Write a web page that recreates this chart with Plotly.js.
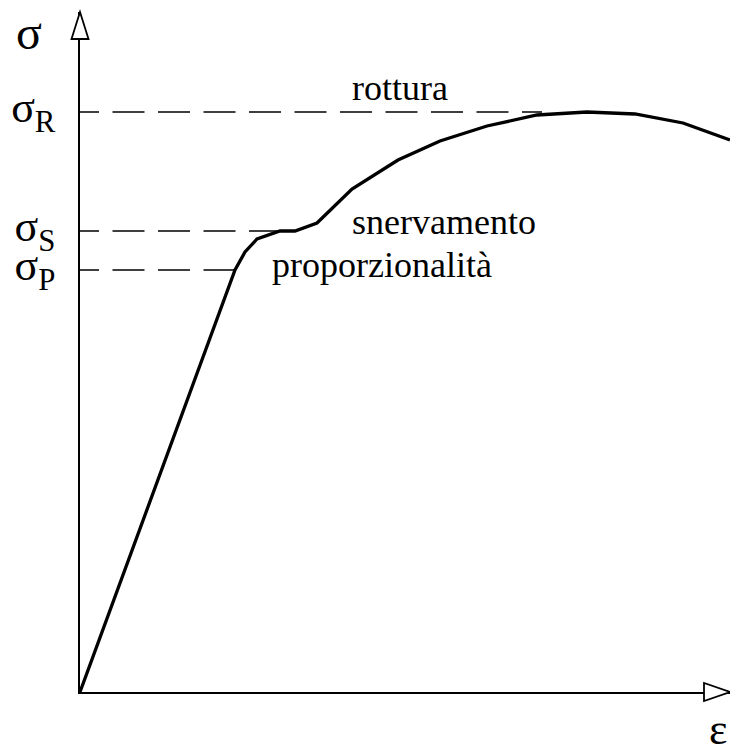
<!DOCTYPE html>
<html>
<head>
<meta charset="utf-8">
<script src="https://cdn.plot.ly/plotly-3.0.1.min.js"></script>
<style>
  html, body { margin: 0; padding: 0; background: #fff; }
  #chart { width: 730px; height: 744px; }
</style>
</head>
<body>
<div id="chart"></div>
<script>
// Stress–strain curve (arbitrary units): strain ε on x, stress σ on y
const strain = [0, 155, 165, 177, 200, 215, 237, 272, 318, 360, 407, 457, 507, 555, 603, 650];
const stress = [0, 422, 440, 453, 461, 461, 469, 503, 532, 551, 566, 577, 580, 578, 569, 552];

// Characteristic stress levels and where their reference lines meet the curve
const levelNames  = ['proporzionalità', 'snervamento', 'rottura'];
const levelStress = [422, 461, 580];
const levelStrain = [155, 200, 462];
const levelTicks  = ['σ<sub>P</sub>', 'σ<sub>S</sub>', 'σ<sub>R</sub>'];

const X_MAX = 650, Y_MAX = 680;
const serif = 'Liberation Serif';

const traces = [];
// dashed reference lines from the σ axis to the curve
levelStress.forEach((s, i) => {
  traces.push({
    x: [-13, levelStrain[i]], y: [s, s],
    mode: 'lines', hoverinfo: 'skip',
    line: { color: '#000', width: 1.5, dash: '32px,13.5px' }
  });
});
// the curve itself
traces.push({
  x: strain, y: stress, mode: 'lines', hoverinfo: 'skip',
  line: { color: '#000', width: 3.3 }
});

// open arrowheads at the ends of both axes (paper coordinates)
const px = v => v / X_MAX, py = v => v / Y_MAX;
const yArrow = `M ${px(-8.5)} ${py(653)} L ${px(8.5)} ${py(653)} L ${px(0)} ${py(680)} Z`;
const xArrow = `M ${px(624)} ${py(9)} L ${px(624)} ${py(-9)} L ${px(650)} ${py(0)} Z`;

// level names written next to the curve
const annotations = [
  { text: levelNames[2], x: 270, y: 582, xanchor: 'left', yanchor: 'bottom' },
  { text: levelNames[1], x: 270, y: 448, xanchor: 'left', yanchor: 'bottom' },
  { text: levelNames[0], x: 190, y: 405, xanchor: 'left', yanchor: 'bottom' }
].map(a => Object.assign({
  xref: 'x', yref: 'y', showarrow: false,
  font: { family: serif, size: 36, color: '#000' }
}, a));

// axis symbols
annotations.push(
  { text: 'σ', xref: 'paper', yref: 'paper', x: px(-51), y: py(660), xanchor: 'center', yanchor: 'middle',
    showarrow: false, font: { family: serif, size: 48, color: '#000' } },
  { text: 'ε', xref: 'paper', yref: 'paper', x: px(638), y: py(-37), xanchor: 'center', yanchor: 'middle',
    showarrow: false, font: { family: serif, size: 44, color: '#000' } }
);

const layout = {
  width: 730, height: 744,
  margin: { l: 80, r: 0, t: 12, b: 52 },
  paper_bgcolor: '#fff', plot_bgcolor: '#fff',
  showlegend: false,
  xaxis: {
    range: [0, X_MAX], showgrid: false, zeroline: false, showticklabels: false,
    ticks: '', showline: true, linecolor: '#000', linewidth: 1.8, fixedrange: true
  },
  yaxis: {
    range: [0, Y_MAX], showgrid: false, zeroline: false, ticks: '',
    tickmode: 'array', tickvals: levelStress, ticktext: levelTicks,
    tickfont: { family: serif, size: 44, color: '#000' },
    ticklabelstandoff: 14, ticklabelshift: -5,
    showline: true, linecolor: '#000', linewidth: 1.8, fixedrange: true
  },
  shapes: [yArrow, xArrow].map(p => ({
    type: 'path', path: p, xref: 'paper', yref: 'paper', layer: 'above',
    fillcolor: '#fff', line: { color: '#000', width: 1.8 }
  })),
  annotations: annotations
};

Plotly.newPlot('chart', traces, layout, { staticPlot: true });
</script>
</body>
</html>
